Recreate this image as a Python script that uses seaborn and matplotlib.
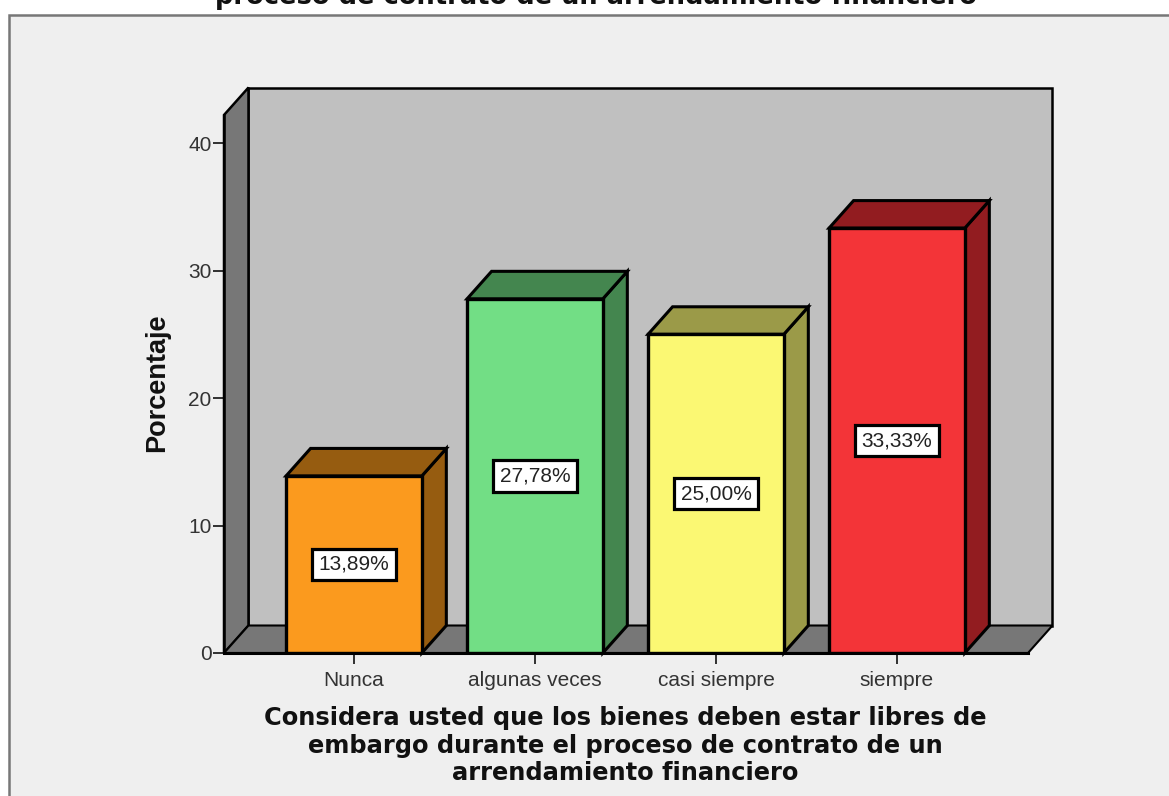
"""SPSS style 3D bar chart, redrawn with seaborn on flat axes."""
import matplotlib
matplotlib.use("Agg")
import matplotlib.pyplot as plt
from matplotlib.patches import Polygon, Rectangle
import pandas as pd
import seaborn as sns

categories = ["Nunca", "algunas veces", "casi siempre", "siempre"]
percentages = [13.89, 27.78, 25.00, 33.33]
value_labels = ["13,89%", "27,78%", "25,00%", "33,33%"]
y_ticks = [0, 10, 20, 30, 40]
front_colors = ["#FB9A1E", "#72DE85", "#FBF873", "#F33438"]
side_colors = ["#965C10", "#44864F", "#9B9A48", "#921C20"]
title_tail = "proceso de contrato de un arrendamiento financiero"
x_title = ("Considera usted que los bienes deben estar libres de\n"
           "embargo durante el proceso de contrato de un\n"
           "arrendamiento financiero")

W, H = 1169, 796
PANEL = "#EFEFEF"
WALL = "#C0C0C0"
SHADE = "#777777"

sns.set_theme(style="white")
plt.rcParams["font.family"] = ["Liberation Sans", "DejaVu Sans"]

fig = plt.figure(figsize=(W / 100, H / 100), dpi=100, facecolor="white")
fig.add_artist(Rectangle((9 / W, -0.05), 1.1, 1 - 15 / H + 0.05, transform=fig.transFigure,
                         facecolor=PANEL, edgecolor="#777777", lw=1.8, zorder=-1))

ax = fig.add_axes([224 / W, 1 - 653 / H, 804 / W, 538 / H])
ax.patch.set_visible(False)

df = pd.DataFrame({"cat": categories, "pct": percentages})
sns.barplot(data=df, x="cat", y="pct", hue="cat", palette=front_colors, legend=False,
            width=0.75, saturation=1, edgecolor="black", linewidth=2.4, ax=ax, zorder=4)
ax.set_xlim(-0.718, 3.724)
ax.set_ylim(0, 42.2)

# depth of the fake 3D box, pixels turned into data units
dx = 24.5 / 181
dy = 27.5 / 12.75
x0, x1 = ax.get_xlim()
y1 = ax.get_ylim()[1]


def box_face(pts, color, lw, z):
    ax.add_patch(Polygon(pts, closed=True, facecolor=color, edgecolor="black", lw=lw,
                         joinstyle="miter", clip_on=False, zorder=z))


box_face([(x0 + dx, dy), (x1 + dx, dy), (x1 + dx, y1 + dy), (x0 + dx, y1 + dy)], WALL, 1.8, 1)
box_face([(x0, 0), (x0 + dx, dy), (x0 + dx, y1 + dy), (x0, y1)], SHADE, 1.8, 1.5)
box_face([(x0, 0), (x1, 0), (x1 + dx, dy), (x0 + dx, dy)], SHADE, 1.5, 1.5)

for bar, side, lab in zip(ax.patches, side_colors, value_labels):
    left, w, h = bar.get_x(), bar.get_width(), bar.get_height()
    right = left + w
    box_face([(right, 0), (right + dx, dy), (right + dx, h + dy), (right, h)], side, 2.2, 3)
    box_face([(left, h), (right, h), (right + dx, h + dy), (left + dx, h + dy)], side, 2.2, 3)
    ax.text(left + w / 2, h / 2, lab, ha="center", va="center", fontsize=15, color="#222222",
            zorder=6, bbox=dict(boxstyle="square,pad=0.3", facecolor="white",
                                edgecolor="black", lw=2.3))

sns.despine(ax=ax, top=True, right=True)
for side in ("left", "bottom"):
    ax.spines[side].set_color("black")
    ax.spines[side].set_zorder(5)
ax.spines["left"].set_linewidth(1.8)
ax.spines["bottom"].set_linewidth(2.2)

ax.set_yticks(y_ticks)
ax.tick_params(axis="y", left=True, length=8, width=1.3, color="#222222", pad=1,
               labelsize=15, labelcolor="#333333")
ax.tick_params(axis="x", bottom=True, length=8, width=1.3, color="#222222", pad=5,
               labelsize=15, labelcolor="#333333")

ax.set_ylabel("Porcentaje", fontsize=19.5, fontweight="bold", color="#111111")
ax.yaxis.set_label_coords(-0.067, 0.502)
ax.set_xlabel(x_title, fontsize=17.4, fontweight="bold", color="#111111", family="DejaVu Sans",
              linespacing=1.2, va="top")
ax.xaxis.set_label_coords(0.499, -0.098)

# only the last title line is left inside the crop
fig.text(596 / W, 1 - 4 / H, title_tail, ha="center", va="baseline", fontsize=18.5,
         fontweight="bold", color="#111111", family="DejaVu Sans")

fig.savefig("out.png", dpi=100)
